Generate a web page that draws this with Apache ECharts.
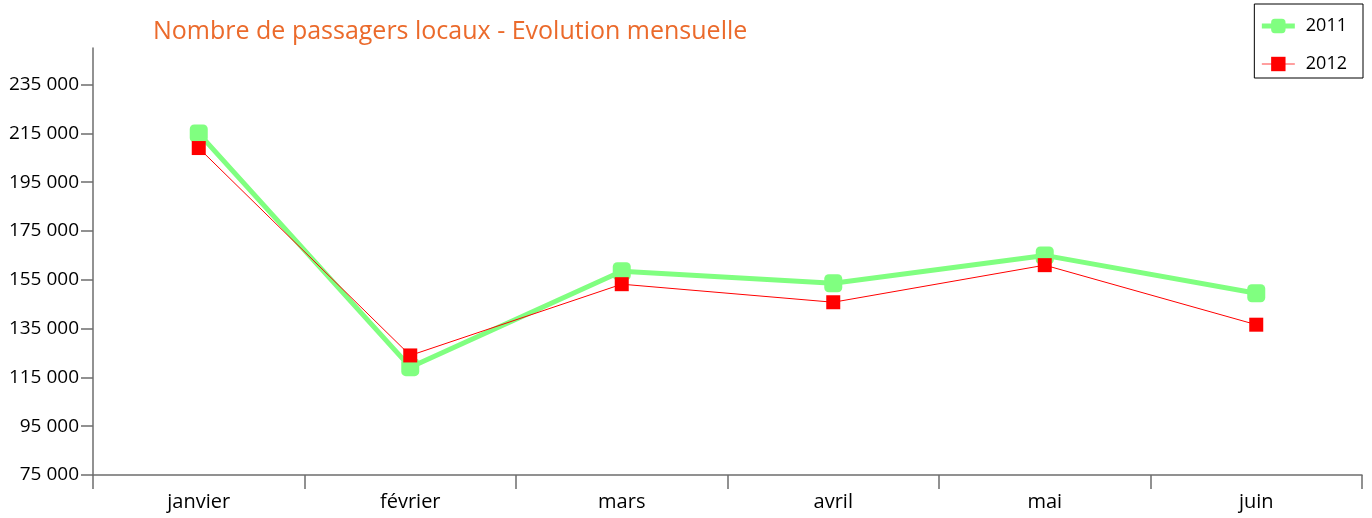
<!DOCTYPE html>
<html>
<head>
<meta charset="utf-8">
<script src="https://cdn.jsdelivr.net/npm/echarts@6/dist/echarts.min.js"></script>
<style>
  html, body { margin: 0; padding: 0; background: #fff; }
  #chart { width: 1372px; height: 518px; }
</style>
</head>
<body>
<div id="chart"></div>
<script>
var months = ['janvier', 'février', 'mars', 'avril', 'mai', 'juin'];
var passengers2011 = [215000, 119200, 158500, 153600, 165000, 149500];
var passengers2012 = [209000, 124000, 153200, 145800, 161000, 136600];
var yTicks = [75000, 95000, 115000, 135000, 155000, 175000, 195000, 215000, 235000];

function fmt(v) {
  return String(v).replace(/\B(?=(\d{3})+(?!\d))/g, ' ');
}

var legendText = { color: '#000', fontSize: 18, fontFamily: 'Open Sans', padding: [0, 0, 0, 6] };

var chart = echarts.init(document.getElementById('chart'));
chart.setOption({
  animation: false,
  title: {
    text: 'Nombre de passagers locaux - Evolution mensuelle',
    left: 148,
    top: 14,
    textStyle: {
      color: '#eb6a2b',
      fontFamily: 'Open Sans',
      fontWeight: 'normal',
      fontSize: 25
    }
  },
  legend: {
    orient: 'vertical',
    right: 9,
    top: 4,
    padding: [13, 16, 5, 5],
    borderColor: '#000',
    borderWidth: 1,
    itemWidth: 33,
    itemHeight: 18,
    itemGap: 20,
    textStyle: legendText,
    data: [
      { name: '2011', lineStyle: { width: 5 }, textStyle: legendText },
      { name: '2012', lineStyle: { width: 1.5, opacity: 0.5 }, textStyle: legendText }
    ]
  },
  grid: {
    left: 93,
    right: 10,
    top: 48,
    bottom: 43
  },
  xAxis: {
    type: 'category',
    data: months,
    boundaryGap: true,
    axisLine: { show: true, lineStyle: { color: '#6e6e6e', width: 1.5 } },
    axisTick: { show: true, length: 14, inside: false, alignWithLabel: false, lineStyle: { color: '#6e6e6e', width: 1.5 } },
    axisLabel: { color: '#000', fontSize: 20, fontFamily: 'Open Sans', margin: 17 }
  },
  yAxis: {
    type: 'value',
    min: 75000,
    max: 250000,
    interval: 20000,
    splitLine: { show: false },
    axisLine: { show: true, lineStyle: { color: '#6e6e6e', width: 1.5 } },
    axisTick: { show: true, length: 12, customValues: yTicks, lineStyle: { color: '#6e6e6e', width: 1.5 } },
    axisLabel: {
      color: '#000',
      fontSize: 19,
      fontFamily: 'Open Sans',
      margin: 14,
      customValues: yTicks,
      formatter: fmt
    }
  },
  series: [
    {
      name: '2011',
      type: 'line',
      data: passengers2011,
      symbol: 'roundRect',
      symbolSize: 18,
      lineStyle: { color: '#80ff80', width: 5 },
      itemStyle: { color: '#80ff80' }
    },
    {
      name: '2012',
      type: 'line',
      data: passengers2012,
      symbol: 'rect',
      symbolSize: 14,
      lineStyle: { color: '#ff0000', width: 1 },
      itemStyle: { color: '#ff0000' }
    }
  ]
});
</script>
</body>
</html>
